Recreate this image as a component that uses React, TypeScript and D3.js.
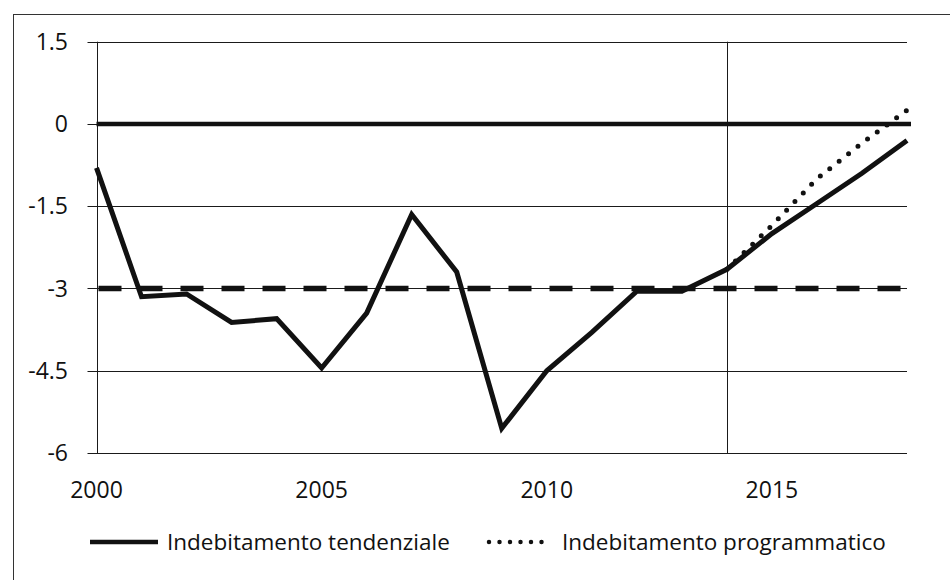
import { useEffect, useRef } from 'react';
import * as d3 from 'd3';

// Saldo di bilancio (% PIL), tendenziale e programmatico
const YEARS = [
  2000, 2001, 2002, 2003, 2004, 2005, 2006, 2007, 2008, 2009,
  2010, 2011, 2012, 2013, 2014, 2015, 2016, 2017, 2018,
];
const TENDENZIALE = [
  -0.8, -3.15, -3.1, -3.62, -3.55, -4.45, -3.45, -1.65, -2.7, -5.55,
  -4.5, -3.8, -3.05, -3.05, -2.65, -2.0, -1.45, -0.9, -0.3,
];
const PROG_YEARS = [2014, 2015, 2016, 2017, 2018];
const PROGRAMMATICO = [-2.65, -1.85, -1.0, -0.35, 0.25];

const SOGLIA = -3; // limite 3%
const ZERO = 0;
const FORECAST_START = 2014;

const Y_TICKS = [1.5, 0, -1.5, -3, -4.5, -6];
const X_TICKS = [2000, 2005, 2010, 2015];

const LEGEND = [
  { label: 'Indebitamento tendenziale', dash: null },
  { label: 'Indebitamento programmatico', dash: '0,10.5' },
];

const FONT = '"Open Sans", sans-serif';
const INK = '#111';

const WIDTH = 950;
const HEIGHT = 580;

export default function App() {
  const svgRef = useRef<SVGSVGElement>(null);

  useEffect(() => {
    if (!svgRef.current) return;
    const svg = d3.select(svgRef.current);
    svg.selectAll('*').remove();

    const x = d3.scaleLinear().domain([2000, 2018]).range([96.5, 907]);
    const y = d3.scaleLinear().domain([-6, 1.5]).range([453, 41.7]);
    const [x0, x1] = x.range();

    // outer frame (right and bottom edges fall outside the picture)
    svg
      .append('rect')
      .attr('x', 13.5)
      .attr('y', 14.5)
      .attr('width', 980)
      .attr('height', 620)
      .attr('fill', 'white')
      .attr('stroke', '#333')
      .attr('stroke-width', 1);

    // horizontal grid + small ticks on the left
    svg
      .append('g')
      .selectAll('line')
      .data(Y_TICKS)
      .join('line')
      .attr('x1', x0 - 9)
      .attr('x2', x1)
      .attr('y1', (d) => Math.round(y(d)) + 0.5)
      .attr('y2', (d) => Math.round(y(d)) + 0.5)
      .attr('stroke', '#1a1a1a')
      .attr('stroke-width', 1);

    // left axis and forecast separator
    svg
      .append('g')
      .selectAll('line')
      .data([2000, FORECAST_START])
      .join('line')
      .attr('x1', (d) => Math.round(x(d)) + 0.5)
      .attr('x2', (d) => Math.round(x(d)) + 0.5)
      .attr('y1', y(1.5))
      .attr('y2', y(-6))
      .attr('stroke', '#1a1a1a')
      .attr('stroke-width', 1);

    // y labels
    svg
      .append('g')
      .selectAll('text')
      .data(Y_TICKS)
      .join('text')
      .attr('x', 68)
      .attr('y', (d) => y(d))
      .attr('dy', '0.35em')
      .attr('text-anchor', 'end')
      .attr('font-family', FONT)
      .attr('font-size', 23)
      .attr('fill', INK)
      .text((d) => String(d));

    // x labels
    svg
      .append('g')
      .selectAll('text')
      .data(X_TICKS)
      .join('text')
      .attr('x', (d) => x(d))
      .attr('y', 498)
      .attr('text-anchor', 'middle')
      .attr('font-family', FONT)
      .attr('font-size', 23)
      .attr('fill', INK)
      .text((d) => String(d));

    // zero line
    svg
      .append('line')
      .attr('x1', x(2000))
      .attr('x2', x(2018) + 4)
      .attr('y1', y(ZERO))
      .attr('y2', y(ZERO))
      .attr('stroke', INK)
      .attr('stroke-width', 4.5);

    // -3% threshold
    svg
      .append('line')
      .attr('x1', x(2000) + 2)
      .attr('x2', x(2018) + 2)
      .attr('y1', y(SOGLIA))
      .attr('y2', y(SOGLIA))
      .attr('stroke', INK)
      .attr('stroke-width', 5.5)
      .attr('stroke-dasharray', '23,18');

    const line = d3
      .line<[number, number]>()
      .x((d) => x(d[0]))
      .y((d) => y(d[1]));

    // programmatico (dotted)
    svg
      .append('path')
      .datum(PROG_YEARS.map((yr, i) => [yr, PROGRAMMATICO[i]] as [number, number]))
      .attr('d', line)
      .attr('fill', 'none')
      .attr('stroke', INK)
      .attr('stroke-width', 5)
      .attr('stroke-linecap', 'round')
      .attr('stroke-dasharray', '0,12');

    // tendenziale (solid)
    svg
      .append('path')
      .datum(YEARS.map((yr, i) => [yr, TENDENZIALE[i]] as [number, number]))
      .attr('d', line)
      .attr('fill', 'none')
      .attr('stroke', INK)
      .attr('stroke-width', 5)
      .attr('stroke-linejoin', 'miter');

    // legend
    const legendX = [90, 487];
    const legend = svg
      .append('g')
      .selectAll('g')
      .data(LEGEND)
      .join('g')
      .attr('transform', (_, i) => `translate(${legendX[i]},542)`);

    legend
      .append('line')
      .attr('x1', (d) => (d.dash ? 2 : 0))
      .attr('x2', (d) => (d.dash ? 60 : 68))
      .attr('stroke', INK)
      .attr('stroke-width', (d) => (d.dash ? 4.5 : 4.5))
      .attr('stroke-linecap', (d) => (d.dash ? 'round' : 'butt'))
      .attr('stroke-dasharray', (d) => d.dash ?? null);

    legend
      .append('text')
      .attr('x', (d) => (d.dash ? 75 : 77))
      .attr('dy', '0.35em')
      .attr('font-family', FONT)
      .attr('font-size', 22.5)
      .attr('fill', INK)
      .text((d) => d.label);
  }, []);

  return (
    <svg
      ref={svgRef}
      width={WIDTH}
      height={HEIGHT}
      style={{ position: 'absolute', left: 0, top: 0, background: 'white' }}
    />
  );
}
